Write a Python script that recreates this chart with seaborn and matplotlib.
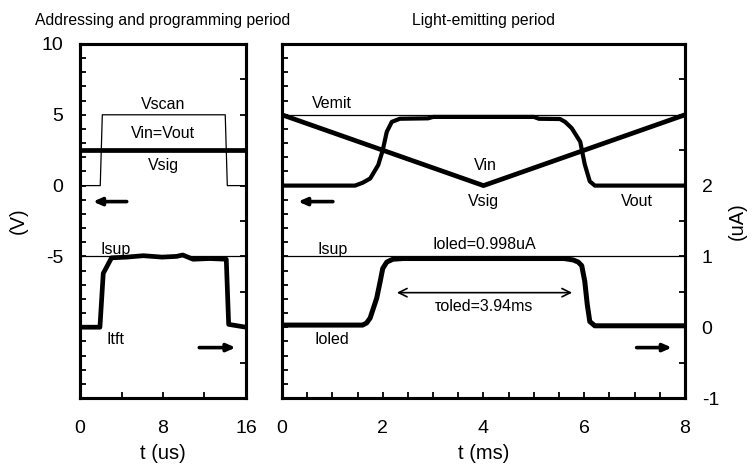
import numpy as np
import seaborn as sns
import matplotlib.pyplot as plt

# ---- data: addressing / programming period (t in us) ----
t_scan = [0, 1.95, 2.15, 14.0, 14.2, 16]
v_scan = [0, 0, 5, 5, 0, 0]
t_sig = [0, 16]
v_sig = [2.5, 2.5]
t_isup_l = [0, 16]
i_isup_l = [1.0, 1.0]
t_itft = [0, 1.92, 2.24, 3.04, 4.5, 6.1, 7.9, 9.3, 9.9, 10.9, 12.5, 14.1, 14.33, 16]
i_itft = [0.0, 0.0, 0.76, 0.98, 0.99, 1.01, 0.99, 1.0, 1.02, 0.96, 0.97, 0.96, 0.04, 0.0]

# ---- data: light-emitting period (t in ms) ----
t_emit = [0, 8]
v_emit = [5, 5]
t_vin = [0, 4, 8]
v_vin = [5, 0, 5]
t_vout = [0, 1.45, 1.6, 1.75, 1.91, 2.0, 2.08, 2.18, 2.34, 2.9, 3.0, 5.0, 5.1,
          5.52, 5.62, 5.75, 5.92, 6.01, 6.11, 6.21, 8]
v_vout = [0, 0, 0.2, 0.5, 1.45, 2.5, 3.8, 4.5, 4.72, 4.75, 4.85, 4.85, 4.72,
          4.7, 4.5, 4.06, 3.1, 1.5, 0.3, 0.0, 0.0]
t_isup_r = [0, 8]
i_isup_r = [1.0, 1.0]
t_ioled = [0, 1.6, 1.68, 1.75, 1.88, 1.95, 2.0, 2.08, 2.2, 2.4, 5.6, 5.78, 5.88,
           5.95, 6.01, 6.06, 6.11, 6.21, 8]
i_ioled = [0.03, 0.03, 0.06, 0.13, 0.41, 0.65, 0.83, 0.92, 0.96, 0.97, 0.97, 0.95,
           0.92, 0.87, 0.65, 0.32, 0.08, 0.02, 0.02]

v_ticks = list(range(-15, 11))
v_labels = [str(v) if v in (10, 5, 0, -5) else "" for v in v_ticks]
i_ticks = list(np.arange(-1, 4.01, 0.5))
i_labels = [str(int(v)) if v in (-1, 0, 1, 2) else "" for v in i_ticks]

sns.set_style("ticks")
plt.rcParams["font.family"] = ["Liberation Sans", "DejaVu Sans"]
plt.rcParams.update({
    "axes.edgecolor": "black",
    "axes.labelcolor": "black",
    "xtick.color": "black",
    "ytick.color": "black",
    "text.color": "black",
})

fig = plt.figure(figsize=(7.52, 4.66), dpi=100)
ax1 = fig.add_axes([0.1064, 0.1459, 0.2207, 0.7597])
ax2 = fig.add_axes([0.375, 0.1459, 0.5359, 0.7597])
tw1 = ax1.twinx()
tw2 = ax2.twinx()

thin = dict(color="black", lw=0.9)
thick = dict(color="black", lw=3.4)

# left panel
sns.lineplot(x=t_scan, y=v_scan, ax=ax1, **thin)
sns.lineplot(x=t_sig, y=v_sig, ax=ax1, **thick)
sns.lineplot(x=t_isup_l, y=i_isup_l, ax=tw1, **thin)
sns.lineplot(x=t_itft, y=i_itft, ax=tw1, **thick)

# right panel
sns.lineplot(x=t_emit, y=v_emit, ax=ax2, **thin)
sns.lineplot(x=t_vin, y=v_vin, ax=ax2, **thick)
sns.lineplot(x=t_vout, y=v_vout, ax=ax2, color="black", lw=3.0)
sns.lineplot(x=t_isup_r, y=i_isup_r, ax=tw2, **thin)
sns.lineplot(x=t_ioled, y=i_ioled, ax=tw2, color="black", lw=3.6)

for ax, tw in ((ax1, tw1), (ax2, tw2)):
    ax.set_ylim(-15, 10)
    tw.set_ylim(-1, 4)
    ax.set_yticks(v_ticks)
    tw.set_yticks(i_ticks)
    for a in (ax, tw):
        for s in a.spines.values():
            s.set_linewidth(2.2)
            s.set_color("black")
            s.set_visible(True)
        a.tick_params(direction="in", length=4, width=1.3, labelsize=14)
    ax.tick_params(axis="x", pad=16, top=False)
    ax.tick_params(axis="y", pad=12, right=False)
    tw.tick_params(axis="y", pad=12, left=False)

ax1.set_xlim(0, 16)
ax1.set_xticks([0, 4, 8, 12, 16])
ax1.set_xticklabels(["0", "", "8", "", "16"])
ax1.set_yticklabels(v_labels)
tw1.set_yticklabels([""] * len(i_ticks))

ax2.set_xlim(0, 8)
x2 = list(np.arange(0, 8.01, 0.5))
ax2.set_xticks(x2)
ax2.set_xticklabels([str(int(v)) if v % 2 == 0 else "" for v in x2])
ax2.set_yticklabels([""] * len(v_ticks))
tw2.set_yticklabels(i_labels)

ax1.set_xlabel("t (us)", fontsize=14.5, labelpad=5)
ax2.set_xlabel("t (ms)", fontsize=14.5, labelpad=5)
ax1.set_ylabel("(V)", fontsize=14.5, labelpad=10)
tw2.set_ylabel("(uA)", fontsize=14.5, labelpad=6)
tw1.set_ylabel("")
ax2.set_ylabel("")

ax1.set_title("Addressing and programming period", fontsize=11.3, pad=14)
ax2.set_title("Light-emitting period", fontsize=11.3, pad=14)

fs = 11.5
txt = dict(fontsize=fs, ha="center", va="center")
ax1.text(8, 5.75, "Vscan", **txt)
ax1.text(8, 3.7, "Vin=Vout", **txt)
ax1.text(8, 1.45, "Vsig", **txt)
ax1.text(3.4, -4.5, "Isup", **txt)
ax1.text(3.4, -10.9, "Itft", **txt)

ax2.text(1.0, 5.8, "Vemit", **txt)
ax2.text(4.03, 1.45, "Vin", **txt)
ax2.text(4.0, -1.15, "Vsig", **txt)
ax2.text(7.04, -1.15, "Vout", **txt)
ax2.text(1.0, -4.5, "Isup", **txt)
ax2.text(4.02, -4.15, "Ioled=0.998uA", **txt)
ax2.text(4.0, -8.55, "τoled=3.94ms", **txt)
ax2.text(1.0, -10.9, "Ioled", **txt)

bold_arrow = dict(arrowstyle="-|>,head_length=0.5,head_width=0.22", color="black",
                  lw=2.6, shrinkA=0, shrinkB=0)
ax1.annotate("", xy=(1.25, -1.13), xytext=(4.5, -1.13), arrowprops=bold_arrow)
ax1.annotate("", xy=(15.0, -11.44), xytext=(11.5, -11.44), arrowprops=bold_arrow)
ax2.annotate("", xy=(0.32, -1.13), xytext=(1.01, -1.13), arrowprops=bold_arrow)
ax2.annotate("", xy=(7.74, -11.44), xytext=(7.04, -11.44), arrowprops=bold_arrow)
ax2.annotate("", xy=(2.28, -7.56), xytext=(5.76, -7.56),
             arrowprops=dict(arrowstyle="<->,head_length=0.6,head_width=0.3",
                             color="black", lw=1.2, shrinkA=0, shrinkB=0))

fig.savefig("out.png", dpi=100)
plt.close(fig)
